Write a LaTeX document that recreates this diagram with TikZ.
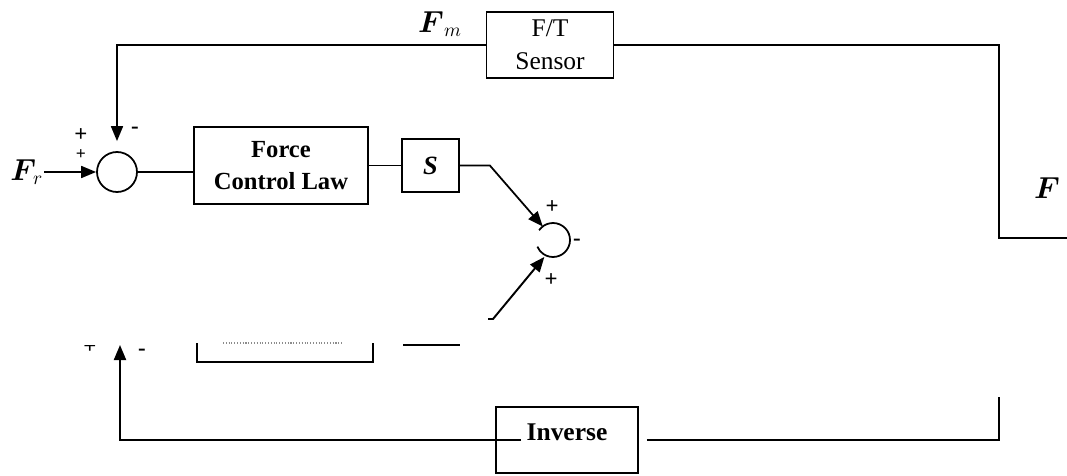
\documentclass[tikz,border=0pt]{standalone}
\usepackage{amsmath,amssymb}
\usepackage{fontspec}
\setmainfont{Liberation Serif}
\usetikzlibrary{arrows.meta,positioning,calc}

\begin{document}
\begin{tikzpicture}[
  x=0.02cm, y=-0.02cm,
  font=\fontsize{14.5}{19}\selectfont,
  line width=1pt,
  box/.style={draw, line width=1pt, align=center, inner sep=0pt},
  sum/.style={draw, circle, line width=1pt, minimum size=0.8cm, inner sep=0pt},
  sgn/.style={font=\fontsize{13}{13}\selectfont\bfseries, inner sep=0pt},
  var/.style={font=\fontsize{16}{16}\selectfont, inner sep=0pt},
  ar/.style={-{Triangle[length=3mm, width=2.4mm]}, line width=1pt}
]
\useasboundingbox (0,0) rectangle (1067,476);

% forward path
\node[sum] (sum1) at (117,172) {};
\node[var, anchor=east] (Fr) at (44,172) {$\boldsymbol{F}_{\!r}$};
\node[box, minimum width=3.48cm, minimum height=1.54cm,
      font=\fontsize{14}{18}\selectfont\bfseries] (fcl) at (281,165.5) {Force\\Control Law};
\node[box, minimum width=1.14cm, minimum height=1.06cm,
      font=\fontsize{15}{15}\selectfont\bfseries\itshape] (sgain) at (430.5,165.5) {S};
\coordinate (sum2) at (553,240);
\coordinate (s2a) at ($(sum2)+(-127:17)$);
\coordinate (s2b) at ($(sum2)+(117:19)$);
\coordinate (low) at (488,319);
\draw (sum2) ++(-145:17) arc[start angle=-145, end angle=157, radius=17];

\draw[ar] (Fr.east) -- (sum1.west);
\draw (sum1.east) -- (sum1.east -| fcl.west);
\draw (sgain.west -| fcl.east) -- (sgain.west);
\draw[ar] (sgain.east) -- ++(30,0) -- (s2a);
\draw[ar, line width=1.1pt] (low) -- ++(5,0) -- (s2b);

% signs
\node[sgn] at (81,135) {+};
\node[sgn, font=\fontsize{10}{10}\selectfont\bfseries] at (81,155) {+};
\node[sgn] at (135,130) {-};
\node[sgn] at (552,207) {+};
\node[sgn] at (551,280) {+};
\node[sgn] at (577,242) {-};

% force feedback
\node[box, minimum width=2.54cm, minimum height=1.32cm] (sensor) at (550,45) {F/T\\Sensor};
\node[var] (Fm) at (440,24) {$\boldsymbol{F}_{m}$};
\coordinate (tap) at (999,238);
\coordinate (Fend) at (1067,238);
\node[var] (Fout) at (1047,188) {$\boldsymbol{F}$};
\draw[ar, shorten >=2mm] (sensor.west) -| (sum1.north);
\draw (Fend) -- (tap) |- (sensor.east);

% lower loop (partly lost)
\begin{scope}
  \clip (78,345.2) rectangle (102,362);
  \node[sgn] at (90,347) {+};
\end{scope}
\node[sgn] at (142,352) {-};
\draw (197,343) -- (197,362) -- (373,362) -- (373,343);
\draw[densely dotted, black!45, line width=0.6pt] (223,343) -- (343,343);
\draw[line width=1.2pt] (403,345) -- (460,345);

\node[box, minimum width=2.84cm, minimum height=1.32cm, text depth=0.32cm,
      font=\fontsize{14.5}{18}\selectfont\bfseries] (inv) at (567,440) {Inverse};
\coordinate (tipb) at (120,345);
\coordinate (tapb) at (999,397);
\draw[ar, line width=1.2pt, shorten <=-0.52cm] (inv.west) -| (tipb);
\draw[line width=1.2pt, shorten <=0.16cm] (inv.east) -| (tapb);
\end{tikzpicture}
\end{document}
